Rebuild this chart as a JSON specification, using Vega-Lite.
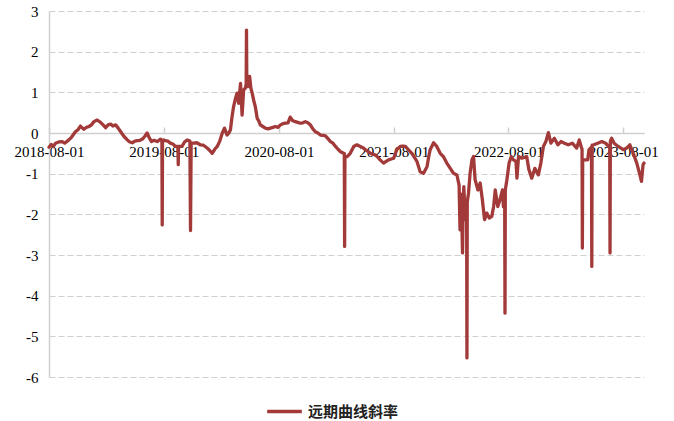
{
  "$schema": "https://vega.github.io/schema/vega-lite/v6.json",
  "width": 595,
  "height": 366,
  "autosize": {"type": "none"},
  "padding": {"left": 49, "top": 11, "right": 30, "bottom": 44},
  "background": "white",
  "config": {"view": {"stroke": null}},
  "data": {
    "values": [
      {"date": "2018-08-01", "v": -0.35}, {"date": "2018-08-08", "v": -0.28}, {"date": "2018-08-15", "v": -0.33},
      {"date": "2018-08-22", "v": -0.25}, {"date": "2018-09-01", "v": -0.22}, {"date": "2018-09-12", "v": -0.21},
      {"date": "2018-09-20", "v": -0.25}, {"date": "2018-10-03", "v": -0.17}, {"date": "2018-10-12", "v": -0.1},
      {"date": "2018-10-24", "v": 0.03}, {"date": "2018-11-01", "v": 0.08}, {"date": "2018-11-09", "v": 0.17},
      {"date": "2018-11-20", "v": 0.09}, {"date": "2018-11-28", "v": 0.14}, {"date": "2018-12-06", "v": 0.16},
      {"date": "2018-12-14", "v": 0.2}, {"date": "2018-12-22", "v": 0.28}, {"date": "2019-01-01", "v": 0.32},
      {"date": "2019-01-12", "v": 0.26}, {"date": "2019-01-20", "v": 0.2}, {"date": "2019-01-28", "v": 0.13},
      {"date": "2019-02-05", "v": 0.2}, {"date": "2019-02-13", "v": 0.22}, {"date": "2019-02-20", "v": 0.17},
      {"date": "2019-03-01", "v": 0.2}, {"date": "2019-03-09", "v": 0.12}, {"date": "2019-03-17", "v": 0.03},
      {"date": "2019-03-27", "v": -0.08}, {"date": "2019-04-07", "v": -0.17}, {"date": "2019-04-15", "v": -0.22},
      {"date": "2019-04-23", "v": -0.24}, {"date": "2019-05-01", "v": -0.2}, {"date": "2019-05-09", "v": -0.19},
      {"date": "2019-05-17", "v": -0.18}, {"date": "2019-05-25", "v": -0.15}, {"date": "2019-06-02", "v": -0.08},
      {"date": "2019-06-09", "v": 0.0}, {"date": "2019-06-16", "v": -0.12}, {"date": "2019-06-23", "v": -0.21},
      {"date": "2019-07-01", "v": -0.18}, {"date": "2019-07-11", "v": -0.21}, {"date": "2019-07-22", "v": -0.15},
      {"date": "2019-07-26", "v": -0.18}, {"date": "2019-07-27", "v": -2.26}, {"date": "2019-07-28", "v": -0.2},
      {"date": "2019-08-01", "v": -0.17}, {"date": "2019-08-06", "v": -0.19}, {"date": "2019-08-14", "v": -0.2},
      {"date": "2019-08-22", "v": -0.25}, {"date": "2019-08-30", "v": -0.27}, {"date": "2019-09-07", "v": -0.33},
      {"date": "2019-09-15", "v": -0.33}, {"date": "2019-09-16", "v": -0.78}, {"date": "2019-09-17", "v": -0.33},
      {"date": "2019-09-28", "v": -0.33}, {"date": "2019-10-06", "v": -0.22}, {"date": "2019-10-14", "v": -0.17},
      {"date": "2019-10-23", "v": -0.2}, {"date": "2019-10-25", "v": -2.4}, {"date": "2019-10-27", "v": -0.25},
      {"date": "2019-11-04", "v": -0.25}, {"date": "2019-11-14", "v": -0.24}, {"date": "2019-11-25", "v": -0.29},
      {"date": "2019-12-05", "v": -0.3}, {"date": "2019-12-17", "v": -0.37}, {"date": "2019-12-25", "v": -0.43},
      {"date": "2020-01-02", "v": -0.5}, {"date": "2020-01-10", "v": -0.4}, {"date": "2020-01-18", "v": -0.33},
      {"date": "2020-01-26", "v": -0.2}, {"date": "2020-02-03", "v": 0.0}, {"date": "2020-02-10", "v": 0.12},
      {"date": "2020-02-18", "v": -0.05}, {"date": "2020-02-24", "v": 0.0}, {"date": "2020-02-29", "v": 0.08},
      {"date": "2020-03-05", "v": 0.4}, {"date": "2020-03-10", "v": 0.65}, {"date": "2020-03-16", "v": 0.85},
      {"date": "2020-03-21", "v": 0.98}, {"date": "2020-03-26", "v": 0.73}, {"date": "2020-04-01", "v": 1.22},
      {"date": "2020-04-06", "v": 0.44}, {"date": "2020-04-11", "v": 1.06}, {"date": "2020-04-16", "v": 1.1},
      {"date": "2020-04-19", "v": 1.2}, {"date": "2020-04-20", "v": 2.53}, {"date": "2020-04-21", "v": 1.2},
      {"date": "2020-04-24", "v": 1.14}, {"date": "2020-04-30", "v": 1.39}, {"date": "2020-05-04", "v": 1.1},
      {"date": "2020-05-08", "v": 0.98}, {"date": "2020-05-13", "v": 0.8}, {"date": "2020-05-18", "v": 0.65},
      {"date": "2020-05-24", "v": 0.36}, {"date": "2020-05-29", "v": 0.3}, {"date": "2020-06-03", "v": 0.2},
      {"date": "2020-06-11", "v": 0.16}, {"date": "2020-06-19", "v": 0.12}, {"date": "2020-06-27", "v": 0.1},
      {"date": "2020-07-05", "v": 0.12}, {"date": "2020-07-13", "v": 0.14}, {"date": "2020-07-21", "v": 0.16},
      {"date": "2020-07-29", "v": 0.14}, {"date": "2020-08-06", "v": 0.2}, {"date": "2020-08-14", "v": 0.23},
      {"date": "2020-08-22", "v": 0.24}, {"date": "2020-08-30", "v": 0.25}, {"date": "2020-09-06", "v": 0.39},
      {"date": "2020-09-14", "v": 0.3}, {"date": "2020-09-22", "v": 0.28}, {"date": "2020-09-30", "v": 0.26},
      {"date": "2020-10-08", "v": 0.24}, {"date": "2020-10-16", "v": 0.25}, {"date": "2020-10-24", "v": 0.28},
      {"date": "2020-11-01", "v": 0.25}, {"date": "2020-11-09", "v": 0.2}, {"date": "2020-11-17", "v": 0.1},
      {"date": "2020-11-25", "v": 0.03}, {"date": "2020-12-03", "v": 0.0}, {"date": "2020-12-11", "v": -0.05},
      {"date": "2020-12-19", "v": -0.06}, {"date": "2020-12-27", "v": -0.07}, {"date": "2021-01-04", "v": -0.14},
      {"date": "2021-01-12", "v": -0.21}, {"date": "2021-01-20", "v": -0.25}, {"date": "2021-01-28", "v": -0.33},
      {"date": "2021-02-05", "v": -0.4}, {"date": "2021-02-13", "v": -0.46}, {"date": "2021-02-23", "v": -0.5},
      {"date": "2021-02-25", "v": -0.5}, {"date": "2021-02-26", "v": -2.79}, {"date": "2021-02-27", "v": -0.58},
      {"date": "2021-03-06", "v": -0.58}, {"date": "2021-03-16", "v": -0.5}, {"date": "2021-03-27", "v": -0.33},
      {"date": "2021-04-06", "v": -0.29}, {"date": "2021-04-17", "v": -0.33}, {"date": "2021-04-25", "v": -0.36},
      {"date": "2021-05-03", "v": -0.41}, {"date": "2021-05-11", "v": -0.45}, {"date": "2021-05-19", "v": -0.5},
      {"date": "2021-05-27", "v": -0.52}, {"date": "2021-06-04", "v": -0.54}, {"date": "2021-06-12", "v": -0.6},
      {"date": "2021-06-19", "v": -0.66}, {"date": "2021-06-30", "v": -0.74}, {"date": "2021-07-08", "v": -0.7},
      {"date": "2021-07-16", "v": -0.66}, {"date": "2021-07-24", "v": -0.64}, {"date": "2021-08-01", "v": -0.62},
      {"date": "2021-08-11", "v": -0.41}, {"date": "2021-08-22", "v": -0.33}, {"date": "2021-08-30", "v": -0.32},
      {"date": "2021-09-07", "v": -0.33}, {"date": "2021-09-18", "v": -0.42}, {"date": "2021-09-28", "v": -0.5},
      {"date": "2021-10-06", "v": -0.6}, {"date": "2021-10-14", "v": -0.7}, {"date": "2021-10-24", "v": -0.95},
      {"date": "2021-11-04", "v": -0.99}, {"date": "2021-11-15", "v": -0.83}, {"date": "2021-11-20", "v": -0.6},
      {"date": "2021-11-25", "v": -0.41}, {"date": "2021-12-06", "v": -0.24}, {"date": "2021-12-16", "v": -0.33},
      {"date": "2021-12-27", "v": -0.5}, {"date": "2022-01-06", "v": -0.58}, {"date": "2022-01-17", "v": -0.74},
      {"date": "2022-01-28", "v": -0.87}, {"date": "2022-02-07", "v": -0.99}, {"date": "2022-02-18", "v": -1.03},
      {"date": "2022-02-25", "v": -1.28}, {"date": "2022-02-28", "v": -2.38}, {"date": "2022-03-02", "v": -1.5},
      {"date": "2022-03-04", "v": -1.64}, {"date": "2022-03-08", "v": -2.95}, {"date": "2022-03-10", "v": -1.8},
      {"date": "2022-03-12", "v": -1.32}, {"date": "2022-03-17", "v": -2.13}, {"date": "2022-03-21", "v": -1.9},
      {"date": "2022-03-22", "v": -5.53}, {"date": "2022-03-23", "v": -1.7}, {"date": "2022-03-27", "v": -1.48},
      {"date": "2022-04-01", "v": -0.99}, {"date": "2022-04-07", "v": -0.66}, {"date": "2022-04-12", "v": -0.58},
      {"date": "2022-04-17", "v": -1.15}, {"date": "2022-04-26", "v": -1.4}, {"date": "2022-05-03", "v": -1.23},
      {"date": "2022-05-10", "v": -1.64}, {"date": "2022-05-17", "v": -2.13}, {"date": "2022-05-24", "v": -1.97},
      {"date": "2022-06-01", "v": -2.09}, {"date": "2022-06-09", "v": -2.05}, {"date": "2022-06-15", "v": -1.8},
      {"date": "2022-06-20", "v": -1.4}, {"date": "2022-06-28", "v": -1.81}, {"date": "2022-07-05", "v": -1.64},
      {"date": "2022-07-13", "v": -1.4}, {"date": "2022-07-16", "v": -1.81}, {"date": "2022-07-20", "v": -1.7},
      {"date": "2022-07-21", "v": -4.43}, {"date": "2022-07-22", "v": -1.4}, {"date": "2022-07-27", "v": -1.15},
      {"date": "2022-08-03", "v": -0.74}, {"date": "2022-08-10", "v": -0.58}, {"date": "2022-08-17", "v": -0.66},
      {"date": "2022-08-25", "v": -0.7}, {"date": "2022-08-28", "v": -1.11}, {"date": "2022-09-02", "v": -0.58},
      {"date": "2022-09-12", "v": -0.62}, {"date": "2022-09-20", "v": -0.6}, {"date": "2022-09-28", "v": -0.58},
      {"date": "2022-10-05", "v": -0.9}, {"date": "2022-10-14", "v": -1.11}, {"date": "2022-10-24", "v": -0.87},
      {"date": "2022-11-04", "v": -1.03}, {"date": "2022-11-12", "v": -0.74}, {"date": "2022-11-20", "v": -0.33},
      {"date": "2022-11-28", "v": -0.21}, {"date": "2022-12-06", "v": 0.01}, {"date": "2022-12-14", "v": -0.25},
      {"date": "2022-12-25", "v": -0.13}, {"date": "2023-01-05", "v": -0.29}, {"date": "2023-01-15", "v": -0.21},
      {"date": "2023-01-26", "v": -0.25}, {"date": "2023-02-07", "v": -0.29}, {"date": "2023-02-20", "v": -0.25},
      {"date": "2023-03-06", "v": -0.37}, {"date": "2023-03-14", "v": -0.17}, {"date": "2023-03-20", "v": -0.33},
      {"date": "2023-03-23", "v": -0.4}, {"date": "2023-03-24", "v": -2.83}, {"date": "2023-03-25", "v": -0.66},
      {"date": "2023-03-30", "v": -0.66}, {"date": "2023-04-10", "v": -0.66}, {"date": "2023-04-14", "v": -0.41},
      {"date": "2023-04-22", "v": -0.35}, {"date": "2023-04-23", "v": -3.28}, {"date": "2023-04-24", "v": -0.3},
      {"date": "2023-04-29", "v": -0.29}, {"date": "2023-05-12", "v": -0.25}, {"date": "2023-05-25", "v": -0.21},
      {"date": "2023-06-06", "v": -0.25}, {"date": "2023-06-15", "v": -0.33}, {"date": "2023-06-19", "v": -0.3},
      {"date": "2023-06-20", "v": -2.95}, {"date": "2023-06-21", "v": -0.2}, {"date": "2023-06-25", "v": -0.13},
      {"date": "2023-07-03", "v": -0.25}, {"date": "2023-07-16", "v": -0.33}, {"date": "2023-08-01", "v": -0.41},
      {"date": "2023-08-12", "v": -0.37}, {"date": "2023-08-22", "v": -0.29}, {"date": "2023-09-02", "v": -0.5},
      {"date": "2023-09-13", "v": -0.74}, {"date": "2023-09-23", "v": -1.03}, {"date": "2023-09-28", "v": -1.19},
      {"date": "2023-10-03", "v": -0.78}, {"date": "2023-10-06", "v": -0.74}
    ]
  },
  "mark": {"type": "line", "strokeWidth": 3.3, "strokeJoin": "round", "strokeCap": "round"},
  "encoding": {
    "x": {
      "field": "date",
      "type": "temporal",
      "scale": {
        "type": "utc",
        "domain": [
          {"year": 2018, "month": 8, "date": 1, "utc": true},
          {"year": 2023, "month": 10, "date": 6, "utc": true}
        ]
      },
      "axis": {
        "title": null,
        "orient": "bottom",
        "offset": -244,
        "values": [
          {"year": 2018, "month": 8, "date": 1, "utc": true},
          {"year": 2019, "month": 8, "date": 1, "utc": true},
          {"year": 2020, "month": 8, "date": 1, "utc": true},
          {"year": 2021, "month": 8, "date": 1, "utc": true},
          {"year": 2022, "month": 8, "date": 1, "utc": true},
          {"year": 2023, "month": 8, "date": 1, "utc": true}
        ],
        "format": "%Y-%m-%d",
        "labelFont": "Liberation Serif",
        "labelFontSize": 15,
        "labelColor": "#000000",
        "labelFlush": false,
        "labelOverlap": false,
        "tickSize": -6,
        "tickColor": "#d0d0d0",
        "tickWidth": 1.5,
        "domainColor": "#d0d0d0",
        "domainWidth": 1.5,
        "grid": false,
        "labelPadding": 17
      }
    },
    "y": {
      "field": "v",
      "type": "quantitative",
      "scale": {"domain": [-6, 3], "nice": false, "zero": false},
      "axis": {
        "title": null,
        "values": [-6, -5, -4, -3, -2, -1, 0, 1, 2, 3],
        "labelExpr": "'' + datum.value",
        "labelFont": "Liberation Serif",
        "labelFontSize": 15,
        "labelColor": "#000000",
        "ticks": false,
        "labelPadding": 11,
        "domainColor": "#d0d0d0",
        "domainWidth": 1.5,
        "gridColor": "#d0d0d0",
        "gridDash": [6, 3],
        "gridWidth": 1.2
      }
    },
    "color": {
      "datum": "远期曲线斜率",
      "scale": {"range": ["#a33a3a"]},
      "legend": {
        "orient": "none",
        "legendX": 216,
        "legendY": 381,
        "title": null,
        "symbolType": "stroke",
        "symbolSize": 1200,
        "symbolStrokeWidth": 3.5,
        "labelFont": "Noto Sans CJK SC",
        "labelFontSize": 15,
        "labelFontWeight": "bold",
        "labelColor": "#222222"
      }
    }
  }
}
